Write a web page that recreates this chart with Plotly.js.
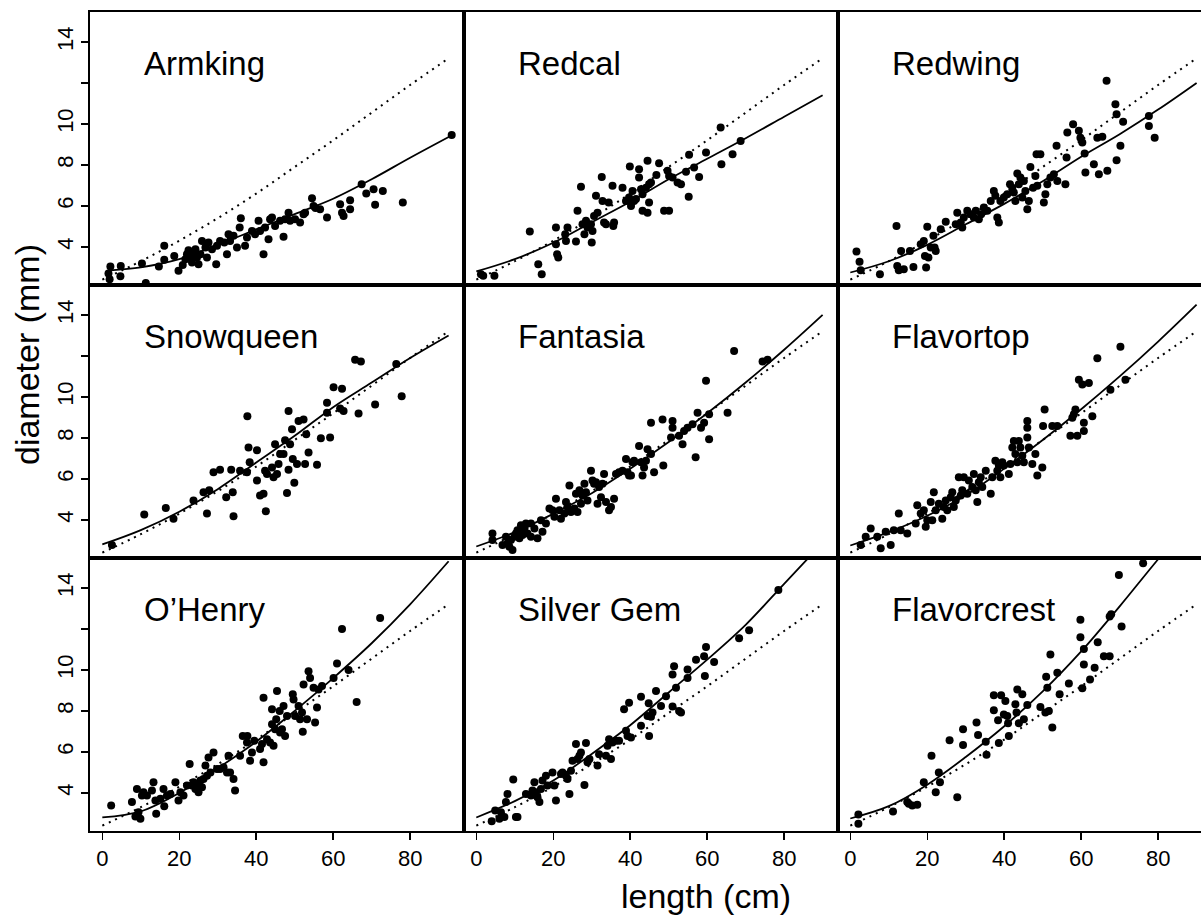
<!DOCTYPE html>
<html><head><meta charset="utf-8">
<script src="https://cdn.plot.ly/plotly-3.0.1.min.js"></script>
<style>html,body{margin:0;padding:0;background:#fff;overflow:hidden;}#chart{width:1214px;height:920px;}</style>
</head><body><div id="chart"></div>
<script>
// ---- categories & tick labels ----
const cultivars = ["Armking","Redcal","Redwing","Snowqueen","Fantasia","Flavortop","O\u2019Henry","Silver Gem","Flavorcrest"];
const lengthTicks = [0,20,40,60,80];
const diameterTicks = [4,6,8,10,12,14];
const diameterTickText = ["4","6","8","10","","14"];
const xTitle = "length (cm)";
const yTitle = "diameter (mm)";

// ---- observations [length, diameter] ----
const armking = [[2.1,3.04],[1.6,2.7],[1.9,2.42],[4.8,3.07],[4.7,2.57],[10.3,3.19],[11.3,2.24],[14.7,3.04],[16.1,4.05],[16.1,3.37],[18.7,3.56],[19.8,2.83],[20.9,3.11],[21.6,3.4],[22.0,3.64],[22.4,3.84],[22.9,3.48],[23.3,3.24],[23.7,3.72],[24.2,3.89],[24.6,3.48],[25.0,3.15],[25.5,3.64],[25.9,4.29],[26.8,3.97],[27.2,3.48],[27.6,4.21],[28.5,3.89],[29.6,3.15],[29.8,4.05],[30.6,4.29],[31.7,4.21],[32.4,3.64],[32.8,4.62],[33.2,4.29],[34.1,4.54],[35.0,3.97],[35.7,4.94],[36.0,5.4],[37.1,4.05],[37.6,4.46],[38.9,4.78],[39.7,4.62],[40.6,5.27],[41.0,4.78],[41.9,3.64],[42.3,4.94],[43.2,4.37],[43.6,5.35],[44.1,5.43],[44.9,5.02],[46.2,5.27],[47.1,4.49],[47.5,5.35],[48.4,5.67],[48.8,5.27],[50.1,5.35],[51.4,5.19],[52.3,5.59],[52.7,5.67],[54.5,6.37],[54.9,6.0],[55.4,5.9],[56.6,5.84],[58.4,5.43],[61.8,6.08],[62.3,5.67],[62.7,5.51],[64.4,6.28],[64.4,5.84],[67.4,7.06],[68.6,6.6],[70.5,6.81],[70.9,6.05],[72.9,6.73],[78.1,6.16],[90.8,9.46]];
const redcal = [[1.2,2.67],[1.8,2.59],[4.7,2.59],[13.9,4.75],[16.1,3.15],[17.0,2.67],[20.7,4.94],[20.7,4.13],[21.0,3.64],[21.3,3.48],[23.1,4.62],[23.3,4.29],[23.7,4.94],[25.9,4.26],[26.3,5.76],[27.2,6.93],[27.6,5.11],[28.1,4.62],[28.5,5.27],[28.9,4.94],[29.8,5.11],[30.0,4.21],[30.2,4.78],[30.6,5.51],[31.1,6.49],[31.5,5.67],[32.6,7.41],[32.8,6.24],[33.2,5.19],[33.7,5.11],[34.4,6.16],[35.4,6.98],[35.6,5.02],[35.8,5.19],[38.0,6.89],[38.9,6.24],[39.7,6.41],[39.9,7.92],[40.2,6.0],[40.6,6.73],[41.0,6.24],[41.5,6.33],[42.3,7.79],[42.3,7.38],[42.8,6.81],[43.2,6.57],[43.2,5.76],[44.1,6.89],[44.5,8.2],[44.5,5.67],[44.9,7.06],[44.9,6.16],[45.4,7.14],[46.8,7.51],[47.5,8.08],[48.8,5.76],[50.1,5.76],[49.7,7.71],[50.1,7.46],[51.0,7.38],[52.3,7.14],[53.2,7.06],[54.5,7.67],[55.2,6.44],[55.3,8.49],[56.6,7.87],[57.9,7.41],[59.7,8.6],[63.5,9.82],[63.7,8.03],[66.6,8.52],[68.7,9.17]];
const redwing = [[1.6,3.77],[2.4,3.28],[2.7,2.86],[7.7,2.67],[12.0,5.02],[12.2,3.07],[12.6,2.86],[13.2,3.8],[13.9,2.91],[15.5,3.8],[16.4,3.02],[18.3,4.13],[19.1,4.29],[19.4,3.56],[19.7,2.99],[20.0,4.98],[20.3,3.48],[20.9,3.97],[21.6,4.54],[21.9,3.97],[22.2,3.8],[23.5,4.86],[24.8,5.22],[27.4,5.11],[27.8,5.67],[28.7,5.19],[29.1,4.94],[29.5,5.43],[30.4,5.76],[31.3,5.59],[32.1,5.43],[32.6,5.76],[33.4,5.35],[34.0,5.59],[34.7,5.92],[35.6,5.76],[36.5,6.24],[37.3,6.73],[37.7,6.49],[38.2,5.43],[38.6,5.19],[39.0,6.24],[39.9,6.41],[40.8,6.57],[41.5,7.06],[42.1,6.89],[42.5,6.65],[42.9,6.24],[43.4,7.58],[43.8,7.06],[44.2,7.38],[44.7,6.41],[45.1,7.22],[45.5,6.73],[46.0,5.84],[46.4,6.24],[46.8,7.9],[47.5,6.89],[48.1,7.46],[48.6,6.98],[48.4,8.52],[49.4,8.52],[50.3,6.16],[50.7,6.57],[51.2,7.06],[52.0,7.38],[52.9,7.54],[53.6,8.93],[53.8,7.22],[55.9,7.06],[56.2,8.36],[56.4,9.58],[57.9,9.98],[59.4,9.66],[59.8,9.33],[60.3,9.09],[60.9,8.55],[61.1,7.63],[63.3,8.03],[64.2,9.33],[64.6,7.54],[65.5,9.37],[66.8,7.71],[66.6,12.1],[68.9,10.96],[69.2,10.47],[69.2,8.23],[70.2,8.93],[70.9,10.11],[77.6,10.39],[77.6,9.9],[79.1,9.33]];
const snowqueen = [[2.5,2.77],[10.9,4.26],[16.5,4.58],[18.5,4.06],[23.7,4.95],[26.3,5.35],[27.2,4.31],[27.8,5.44],[28.9,6.32],[30.6,6.44],[32.2,5.11],[33.5,6.44],[33.9,5.35],[34.1,4.18],[35.8,6.4],[37.6,6.32],[37.7,9.06],[38.0,7.53],[38.3,6.81],[40.2,7.4],[40.2,5.92],[41.0,5.19],[41.9,5.27],[42.3,6.4],[42.5,4.42],[42.8,6.24],[44.1,6.56],[44.5,6.08],[44.9,7.69],[45.4,6.24],[45.8,6.73],[46.2,7.21],[47.1,7.21],[47.5,7.89],[48.0,5.31],[48.4,9.31],[48.4,6.44],[48.8,7.69],[49.3,8.42],[49.5,6.97],[49.9,5.81],[50.6,6.73],[51.0,8.82],[52.3,8.9],[52.7,6.73],[53.0,8.18],[53.6,7.29],[55.8,6.69],[56.8,7.98],[58.4,9.71],[58.4,9.23],[59.2,8.02],[60.1,10.47],[61.8,9.44],[62.3,10.4],[62.7,9.31],[65.7,11.81],[67.2,11.73],[66.6,9.19],[70.9,9.63],[76.4,11.6],[77.8,10.03]];
const fantasia = [[4.2,3.34],[4.2,3.02],[6.8,2.77],[7.7,3.18],[8.1,2.85],[8.6,2.69],[9.0,3.02],[9.4,2.53],[9.9,3.18],[10.3,3.34],[10.7,3.5],[11.2,3.1],[11.6,3.74],[12.0,3.26],[12.5,3.58],[12.9,3.82],[13.3,3.34],[14.2,3.82],[14.2,3.18],[15.1,3.58],[15.9,3.1],[16.8,3.98],[17.2,3.42],[18.1,3.82],[19.0,4.55],[19.8,4.47],[20.3,4.15],[20.7,5.03],[21.6,4.47],[22.0,4.06],[22.9,4.31],[23.3,4.87],[23.7,4.63],[24.2,5.68],[24.6,4.39],[25.5,4.55],[25.9,5.27],[26.3,4.39],[26.8,5.44],[27.2,4.79],[27.6,5.19],[28.1,5.76],[28.5,5.35],[28.9,4.95],[29.8,6.4],[30.2,5.92],[30.6,5.76],[31.1,5.84],[31.5,4.79],[31.9,5.6],[32.4,5.11],[32.8,5.76],[33.2,6.24],[33.7,4.87],[34.5,4.47],[35.0,4.63],[35.8,5.03],[36.3,6.24],[37.1,6.32],[38.0,6.4],[38.9,6.97],[39.3,6.32],[39.7,6.16],[40.2,6.16],[40.6,6.81],[41.0,6.89],[42.3,7.61],[42.8,6.81],[43.2,6.16],[43.6,6.56],[44.1,6.89],[44.5,7.45],[45.4,8.74],[45.4,7.21],[46.2,6.32],[48.4,8.9],[48.6,6.65],[50.6,8.02],[51.0,8.82],[51.0,8.5],[52.7,8.1],[53.6,7.69],[54.0,8.34],[54.9,8.5],[56.2,8.66],[57.0,7.05],[57.5,9.23],[58.4,8.5],[59.2,8.74],[59.7,10.79],[60.5,7.94],[60.5,9.15],[65.3,9.23],[67.0,12.24],[74.4,11.73],[75.7,11.81]];
const flavortop = [[2.7,2.77],[4.0,3.18],[5.3,3.58],[7.0,3.18],[7.9,2.61],[9.2,3.42],[10.5,2.77],[11.3,3.5],[12.6,4.31],[13.1,3.5],[14.8,3.34],[17.0,3.82],[17.4,4.71],[18.3,4.31],[19.1,4.47],[19.6,3.66],[20.0,3.98],[20.9,4.87],[21.3,3.98],[21.7,5.35],[22.2,4.47],[23.0,4.79],[23.9,4.06],[24.3,4.63],[24.8,4.95],[25.2,4.47],[26.1,5.11],[26.5,5.35],[26.9,4.63],[27.4,4.95],[28.2,6.08],[28.7,5.19],[29.1,5.44],[29.5,6.08],[30.4,5.27],[30.8,5.92],[31.7,5.6],[32.1,6.24],[32.6,5.44],[33.0,4.87],[33.4,5.84],[33.9,6.08],[34.3,5.6],[35.2,6.4],[36.5,5.27],[36.9,6.08],[37.7,6.89],[38.2,6.4],[38.6,6.65],[39.0,6.08],[39.5,6.81],[39.9,6.65],[41.2,6.24],[41.6,6.73],[42.1,7.53],[42.5,7.85],[42.9,7.21],[43.4,6.81],[43.8,7.85],[44.2,7.53],[44.7,7.13],[45.1,6.81],[46.0,8.82],[46.0,8.5],[46.0,8.02],[46.4,7.53],[47.3,6.73],[48.1,7.21],[48.6,6.16],[49.9,6.56],[50.1,8.58],[50.5,9.39],[52.5,8.58],[53.8,8.58],[57.2,8.1],[57.7,8.98],[58.1,9.15],[58.5,9.39],[59.0,8.1],[59.4,10.84],[60.3,10.6],[60.7,8.74],[60.7,8.34],[62.0,10.68],[62.9,9.06],[64.2,11.89],[67.6,10.35],[70.2,12.45],[71.5,10.84]];
const ohenry = [[2.3,3.39],[7.7,3.55],[8.6,2.85],[9.0,4.19],[9.4,3.06],[9.9,2.74],[10.3,3.87],[10.7,4.03],[11.6,3.87],[12.9,4.11],[13.3,4.52],[13.8,3.63],[14.0,2.98],[15.1,3.71],[15.9,4.19],[16.1,3.35],[16.8,3.87],[17.7,3.95],[19.0,4.52],[19.8,3.63],[20.3,4.03],[21.1,3.87],[22.0,4.36],[22.7,5.41],[23.3,4.36],[23.7,4.52],[24.2,4.19],[24.6,4.44],[25.0,4.03],[25.5,4.6],[25.9,4.27],[26.3,4.68],[26.8,5.33],[27.2,4.84],[27.6,5.73],[28.1,5.0],[28.9,5.97],[29.8,5.16],[30.6,5.16],[31.5,5.25],[32.4,5.0],[32.8,5.81],[33.2,5.0],[34.1,4.68],[34.5,4.11],[35.8,5.81],[36.5,6.78],[37.6,6.46],[37.7,6.78],[38.4,5.57],[38.9,5.97],[39.5,6.54],[41.0,6.14],[41.5,6.38],[41.9,8.64],[41.9,5.49],[42.8,6.62],[43.6,6.46],[44.1,8.08],[44.1,7.35],[44.5,6.3],[44.9,7.11],[45.2,7.59],[45.4,8.97],[46.1,8.0],[46.2,6.94],[46.7,7.11],[47.1,8.24],[47.5,6.78],[48.0,7.75],[49.5,8.81],[49.7,8.56],[50.1,7.75],[51.0,8.24],[51.4,7.59],[51.9,7.92],[52.1,6.98],[52.3,9.29],[53.2,7.59],[53.6,9.94],[54.0,9.61],[54.9,9.13],[55.3,7.43],[55.8,8.16],[56.2,9.05],[57.1,9.21],[60.1,9.61],[61.0,10.31],[62.3,11.99],[64.0,9.99],[66.1,8.43],[72.2,12.53]];
const silverGem = [[4.0,2.62],[4.9,3.14],[6.0,2.74],[6.4,3.06],[7.3,2.82],[7.7,3.55],[8.1,3.95],[9.6,4.65],[10.3,2.82],[10.7,2.82],[12.9,3.95],[14.2,3.87],[14.6,4.11],[15.1,4.52],[15.5,4.03],[15.9,3.79],[16.4,3.55],[16.8,4.19],[17.2,4.6],[18.1,4.84],[18.5,4.36],[19.8,5.0],[20.3,4.36],[20.7,3.63],[22.0,4.92],[22.4,5.0],[23.3,4.84],[23.7,4.68],[24.2,3.95],[24.6,5.08],[25.0,5.57],[25.9,6.38],[26.3,5.65],[26.8,5.81],[27.2,5.97],[28.1,4.39],[28.5,6.43],[28.9,5.49],[29.4,5.65],[31.5,5.33],[31.9,5.89],[33.7,5.81],[34.1,6.3],[34.5,6.62],[35.0,5.65],[35.4,6.46],[36.3,6.54],[37.1,6.54],[38.4,8.08],[38.9,7.03],[39.3,6.78],[39.7,8.4],[40.2,6.7],[42.8,8.69],[42.8,7.27],[44.5,7.75],[44.8,8.37],[44.9,6.78],[45.4,7.72],[45.8,7.92],[46.7,8.97],[48.0,8.24],[49.3,8.72],[51.0,8.21],[51.0,9.78],[51.4,10.18],[51.9,9.13],[52.7,8.0],[53.2,7.92],[54.9,9.61],[54.9,10.02],[57.1,10.5],[59.2,10.67],[59.4,9.7],[59.7,11.12],[61.8,10.38],[68.3,11.54],[70.9,11.93],[78.5,13.9]];
const flavorcrest = [[2.1,2.95],[2.1,2.49],[11.1,3.09],[14.8,3.55],[15.2,3.47],[16.1,3.39],[17.4,3.42],[19.1,4.52],[21.1,5.81],[22.2,4.03],[23.0,5.0],[23.3,4.52],[25.8,6.57],[27.8,3.79],[29.3,7.11],[29.3,6.33],[32.8,7.43],[33.2,6.82],[35.2,6.49],[35.4,5.86],[37.3,8.76],[37.3,8.03],[38.4,7.54],[38.6,6.43],[39.2,8.76],[39.9,7.83],[40.3,8.48],[40.8,7.75],[41.0,7.4],[41.2,6.78],[42.9,8.32],[43.2,7.92],[43.4,9.05],[43.8,7.4],[44.7,8.81],[45.1,7.59],[46.0,8.29],[49.4,8.19],[50.7,7.92],[50.9,9.66],[51.2,9.13],[51.6,8.0],[52.0,10.75],[52.5,7.19],[53.8,9.86],[54.4,8.81],[56.8,9.34],[59.8,12.45],[59.8,11.59],[60.3,9.1],[60.7,11.02],[60.7,10.26],[62.3,9.53],[63.5,10.1],[64.3,11.35],[65.9,10.67],[67.4,10.67],[67.4,12.61],[67.8,12.72],[69.8,14.63],[70.5,12.12],[76.1,15.2]];
const observations = [armking, redcal, redwing, snowqueen, fantasia, flavortop, ohenry, silverGem, flavorcrest];

// ---- fitted curves per cultivar (solid) ----
const fitLength = [0,10,20,30,40,50,60,70,80,90];
const armkingFitX = [2,10,20,30,40,50,60,70,80,91];
const armkingFitY = [2.85,3.0,3.4,4.1,4.85,5.6,6.35,7.3,8.35,9.46];
const redcalFitY = [2.8,3.4,4.2,5.2,6.2,7.3,8.3,9.3,10.35,11.4];
const redwingFitY = [2.75,3.3,4.1,5.1,6.1,7.2,8.4,9.5,10.7,12.0];
const snowqueenFitY = [2.8,3.5,4.4,5.5,6.8,8.1,9.5,10.7,11.9,13.0];
const fantasiaFitY = [2.7,3.4,4.3,5.3,6.5,7.8,9.2,10.7,12.3,14.0];
const flavortopFitY = [2.75,3.4,4.2,5.2,6.5,7.9,9.4,11.0,12.7,14.5];
const ohenryFitY = [2.8,3.1,4.0,5.2,6.5,8.0,9.6,11.3,13.2,15.3];
const silverGemFitY = [2.8,3.6,4.6,5.9,7.3,8.9,10.5,12.2,14.2,16.2];
const flavorcrestFitY = [2.75,3.35,4.4,5.75,7.25,8.95,10.9,13.1,15.4,17.6];
const fitX = [armkingFitX, fitLength, fitLength, fitLength, fitLength, fitLength, fitLength, fitLength, fitLength];
const fitY = [armkingFitY, redcalFitY, redwingFitY, snowqueenFitY, fantasiaFitY, flavortopFitY, ohenryFitY, silverGemFitY, flavorcrestFitY];

// ---- pooled curve (dotted), same in every panel ----
const pooledX = [0,10,20,30,40,50,60,70,80,90];
const pooledY = [2.4,3.3,4.3,5.4,6.6,7.9,9.2,10.55,11.9,13.2];

const FONT = "Liberation Sans, Arial, Helvetica, sans-serif";
const traces = [];
const layout = {
  width: 1214, height: 920,
  margin: {l: 90, r: 2, t: 12, b: 89},
  paper_bgcolor: "#fff", plot_bgcolor: "#fff",
  showlegend: false,
  font: {family: FONT, color: "#000"},
  annotations: []
};

cultivars.forEach((name, i) => {
  const row = Math.floor(i / 3), col = i % 3;
  const s = i === 0 ? "" : String(i + 1);
  const xa = "x" + s, ya = "y" + s;
  const obs = observations[i];
  traces.push({type: "scatter", mode: "lines", xaxis: xa, yaxis: ya,
    x: pooledX, y: pooledY, line: {color: "#000", width: 2, dash: "2px,5px", shape: "spline"}, hoverinfo: "skip"});
  traces.push({type: "scatter", mode: "lines", xaxis: xa, yaxis: ya,
    x: fitX[i], y: fitY[i], line: {color: "#000", width: 1.8, shape: "spline"}, hoverinfo: "skip"});
  traces.push({type: "scatter", mode: "markers", xaxis: xa, yaxis: ya, name: name,
    x: obs.map(p => p[0]), y: obs.map(p => p[1]),
    marker: {color: "#000", size: 8, line: {width: 0}}, cliponaxis: true});

  layout["xaxis" + s] = {
    domain: [col / 3, (col + 1) / 3], anchor: ya, range: [-3.2, 94],
    showgrid: false, zeroline: false, showline: true, mirror: true, linecolor: "#000", linewidth: 1.6,
    ticks: row === 2 ? "outside" : "", ticklen: 7, tickwidth: 1.5, tickcolor: "#000",
    tickvals: lengthTicks, ticktext: lengthTicks.map(String), showticklabels: row === 2,
    tickfont: {size: 22, family: FONT, color: "#000"}, fixedrange: true
  };
  layout["yaxis" + s] = {
    domain: [(2 - row) / 3, (3 - row) / 3], anchor: xa, range: [2.14, 15.46],
    showgrid: false, zeroline: false, showline: true, mirror: true, linecolor: "#000", linewidth: 1.6,
    ticks: col === 0 ? "outside" : "", ticklen: 7, tickwidth: 1.5, tickcolor: "#000",
    tickvals: diameterTicks, ticktext: diameterTickText, showticklabels: col === 0, tickangle: -90,
    tickfont: {size: 22, family: FONT, color: "#000"}, fixedrange: true
  };
  layout.annotations.push({xref: xa, yref: ya, x: 10.3, y: 12.95, xanchor: "left", yanchor: "middle",
    text: name, showarrow: false, font: {size: 33, family: FONT, color: "#000"}});
});

layout.annotations.push({xref: "paper", yref: "paper", x: (706 - 90) / 1122, y: -(896 - 831) / 819,
  xanchor: "center", yanchor: "middle", text: xTitle, showarrow: false, font: {size: 34, family: FONT, color: "#000"}});
layout.annotations.push({xref: "paper", yref: "paper", x: (27 - 90) / 1122, y: (831 - 355) / 819,
  xanchor: "center", yanchor: "middle", textangle: -90, text: yTitle, showarrow: false, font: {size: 34, family: FONT, color: "#000"}});

Plotly.newPlot("chart", traces, layout, {staticPlot: true, displayModeBar: false, responsive: false});
</script></body></html>
